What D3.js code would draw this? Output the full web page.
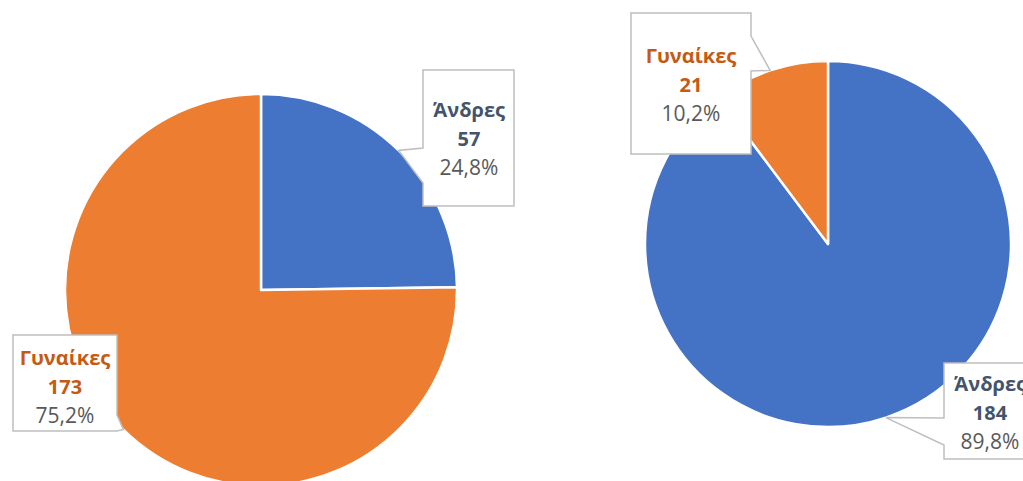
<!DOCTYPE html>
<html>
<head>
<meta charset="utf-8">
<script src="https://cdn.jsdelivr.net/npm/d3@7"></script>
<style>
  body { margin: 0; background: #fff; }
  svg { display: block; }
</style>
</head>
<body>
<svg id="the-svg" width="1023" height="481"></svg>
<script>
// data
var categories = ["Άνδρες", "Γυναίκες"];
var leftValues = [57, 173];
var rightValues = [184, 21];
var percentLabels = { left: ["24,8%", "75,2%"], right: ["89,8%", "10,2%"] };

var fills = ["#4472C4", "#ED7D31"];
var textColors = ["#44546A", "#C55A11"];

var theSvg = d3.select("#the-svg");

var pies = [
  { key: "left", values: leftValues, cx: 261, cy: 290, r: 196,
    boxes: [
      { x: 423, y: 70, w: 91, h: 136, side: "left", b1: 148, b2: 183, tx: 469, ty: 117 },
      { x: 13, y: 335, w: 104, h: 96, side: "right", b1: 415, b2: 431, tx: 65, ty: 365 }
    ] },
  { key: "right", values: rightValues, cx: 828, cy: 244, r: 183,
    boxes: [
      { x: 944, y: 363, w: 92, h: 96, side: "left", b1: 418, b2: 445, tx: 990, ty: 391 },
      { x: 631, y: 13, w: 120, h: 141, side: "right", b1: 36, b2: 71, tx: 691, ty: 63 }
    ] }
];

var pie = d3.pie().sort(null).value(function(d) { return d; });

var calloutPath = function(b, tip) {
  var p = d3.path();
  var x0 = b.x, x1 = b.x + b.w, y0 = b.y, y1 = b.y + b.h;
  p.moveTo(x0, y0);
  p.lineTo(x1, y0);
  if (b.side == "right") {
    p.lineTo(x1, b.b1);
    p.lineTo(tip[0], tip[1]);
    p.lineTo(x1, b.b2);
  }
  p.lineTo(x1, y1);
  p.lineTo(x0, y1);
  if (b.side == "left") {
    p.lineTo(x0, b.b2);
    p.lineTo(tip[0], tip[1]);
    p.lineTo(x0, b.b1);
  }
  p.closePath();
  return p.toString();
};

pies.forEach(function(pd) {
  var arcs = pie(pd.values);
  var arc = d3.arc().innerRadius(0).outerRadius(pd.r);

  var g = theSvg.append("g")
    .attr("transform", "translate(" + pd.cx + "," + pd.cy + ")");
  g.selectAll(".slice").data(arcs)
    .enter().append("path")
      .attr("class", "slice")
      .attr("d", arc)
      .attr("fill", function(d, i) { return fills[i]; })
      .attr("stroke", "#fff")
      .attr("stroke-width", 2.5)
      .attr("stroke-linejoin", "round");

  arcs.forEach(function(a, i) {
    var b = pd.boxes[i];
    var mid = (a.startAngle + a.endAngle) / 2;
    var tip = [pd.cx + Math.sin(mid) * pd.r, pd.cy - Math.cos(mid) * pd.r];

    theSvg.append("path")
      .attr("d", calloutPath(b, tip))
      .attr("fill", "#fff")
      .attr("stroke", "#BFBFBF")
      .attr("stroke-width", 1.5);

    var t = theSvg.append("text")
      .attr("text-anchor", "middle")
      .attr("font-family", "'Open Sans', sans-serif")
      .attr("font-size", 20);
    t.append("tspan")
      .attr("x", b.tx).attr("y", b.ty)
      .attr("font-weight", "bold")
      .attr("fill", textColors[i])
      .text(categories[i]);
    t.append("tspan")
      .attr("x", b.tx).attr("y", b.ty + 29)
      .attr("font-weight", "bold")
      .attr("fill", textColors[i])
      .text(pd.values[i]);
    t.append("tspan")
      .attr("x", b.tx).attr("y", b.ty + 58)
      .attr("font-size", 21)
      .attr("fill", "#595959")
      .text(percentLabels[pd.key][i]);
  });
});
</script>
</body>
</html>
